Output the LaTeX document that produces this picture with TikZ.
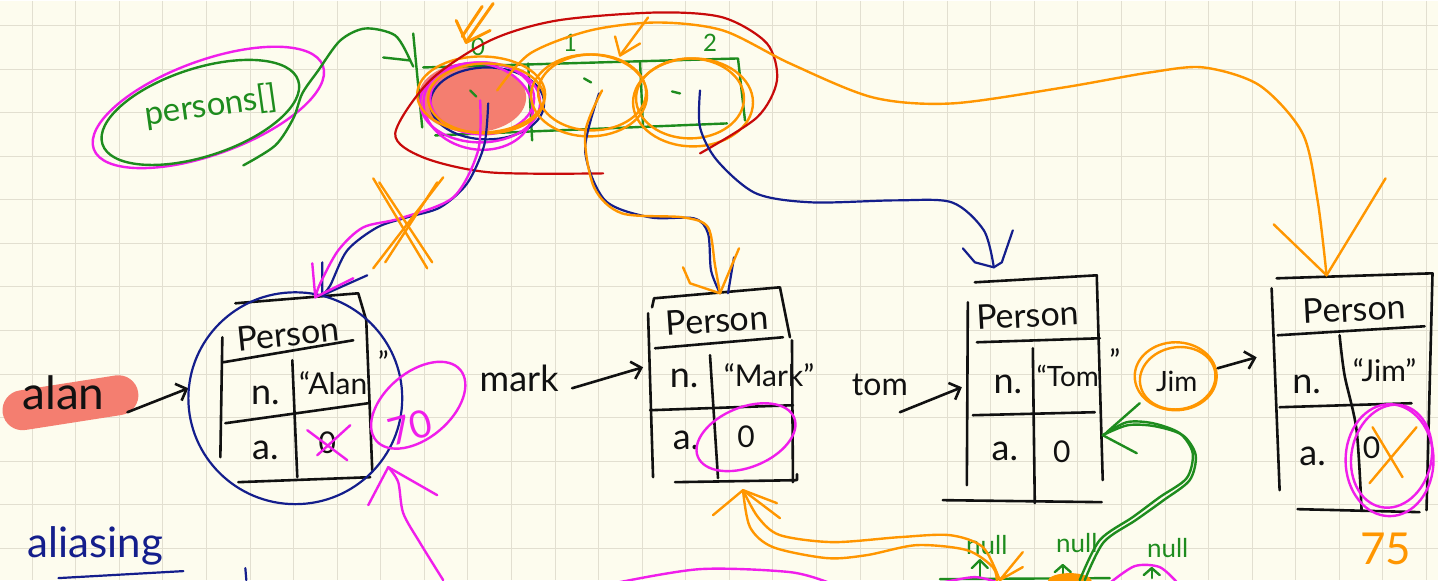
\documentclass[tikz,border=0pt]{standalone}
\usepackage{fontspec}
\setmainfont{Lato}
\usetikzlibrary{arrows.meta}
\definecolor{bg}{RGB}{253,252,238}
\definecolor{gridc}{RGB}{226,223,208}
\definecolor{ink}{RGB}{17,17,17}
\definecolor{navy}{RGB}{20,30,140}
\definecolor{mag}{RGB}{240,30,235}
\definecolor{orng}{RGB}{255,150,0}
\definecolor{grn}{RGB}{30,140,30}
\definecolor{redd}{RGB}{200,10,10}
\definecolor{salmon}{RGB}{244,126,112}
\tikzset{barb/.tip={Straight Barb[length=9pt,width=18pt]}}
\begin{document}
\begin{tikzpicture}[x=1pt,y=-1pt,
  pen/.style={line cap=round,line join=round},
  blk/.style={pen,draw=ink,line width=2.6pt},
  nv/.style={pen,draw=navy,line width=2.2pt},
  mg/.style={pen,draw=mag,line width=2.4pt},
  og/.style={pen,draw=orng,line width=2.4pt},
  gn/.style={pen,draw=grn,line width=2.4pt},
  rd/.style={pen,draw=redd,line width=2.2pt},
  hw/.style={inner sep=0pt,text=ink},
  fs/.style={font=\fontsize{#1}{#1}\selectfont}]
% background and grid
\fill[bg] (0,0) rectangle (1438,580);
\foreach \i in {0,...,32} \draw[gridc,line width=1pt] ({31.7+43.6*\i},0) -- ({31.7+43.6*\i},580);
\foreach \j in {0,...,12} \draw[gridc,line width=1pt] (0,{25+43.6*\j}) -- (1438,{25+43.6*\j});
\useasboundingbox (0,0) rectangle (1438,580);

% ---------- highlights ----------
\draw[salmon,line width=40pt,line cap=round] (22,410) -- (118,395);
\fill[salmon] (472,97) ellipse [x radius=54, y radius=35];

% ---------- persons label ----------
\draw[mg,rotate around={20:(208,107)}] (208,107) ellipse [x radius=122, y radius=47];
\draw[gn,rotate around={18:(200,112)}] (200,112) ellipse [x radius=103, y radius=44];
\node[hw,text=grn,fs=33,rotate=8] (persons) at (211,106) {persons[]};
\coordinate (persA) at (243,165);
\coordinate (arrL) at (410,60);
\draw[gn] plot[smooth] coordinates {(persA) (275,145) (293,118) (302,93) (318,70) (340,40) (365,28) (395,35) (arrL)};
\draw[gn] (383,57) -- (arrL) -- (413,66);

% ---------- array ----------
\draw[gn] (413,33) -- (422,127);
\draw[gn] (423,67) -- (738,58) -- (745,120);
\draw[gn] (435,135) -- (727,123);
\draw[gn] (528,63) -- (532,140);
\draw[gn] (640,62) -- (643,127);
\node[hw,text=grn,fs=24] (i0) at (478,46) {0};
\node[hw,text=grn,fs=24] (i1) at (570,42) {1};
\node[hw,text=grn,fs=24] (i2) at (710,42) {2};
\draw[gn] (470,90) -- (476,96);
\draw[gn] (584,78) -- (591,82);
\draw[gn] (672,91) -- (680,93);

\draw[nv] (487,103) ellipse [x radius=57, y radius=36];
\draw[mg] (480,102) ellipse [x radius=60, y radius=40];
\draw[mg,rotate around={-10:(478,106)}] (478,106) ellipse [x radius=55, y radius=43];
\draw[mg] (482,98) ellipse [x radius=52, y radius=36];

\draw[og] (481,94) ellipse [x radius=64, y radius=38];
\draw[og] (486,98) ellipse [x radius=58, y radius=35];
\draw[og] (589,95) ellipse [x radius=58, y radius=41];
\draw[og] (592,92) ellipse [x radius=54, y radius=38];
\draw[og] (693,102) ellipse [x radius=60, y radius=44];
\draw[og] (690,98) ellipse [x radius=54, y radius=40];

\draw[rd] plot[smooth] coordinates {(700,153) (757,117) (777,80) (767,43) (723,17) (657,12) (557,20) (490,40) (430,80) (395,133) (423,157) (490,172) (603,173)};

% orange arrows at top
\draw[og,line width=3pt] (493,3) -- (467,40);
\draw[og,line width=3pt] (482,6) -- (462,36);
\draw[og,line width=3pt] (456,20) -- (466,42) -- (490,30);
\draw[og] (648,17) -- (620,55);
\draw[og] (615,36) -- (620,55) -- (640,43);

% ---------- Person boxes ----------
% Alan
\draw[blk] (235,303) -- (358,293) -- (366,320) -- (372,470);
\draw[blk] (222,337) -- (220,457);
\draw[blk] (223,362) -- (353,340);
\draw[blk] (292,360) -- (297,477);
\draw[blk] (225,423) -- (368,403);
\draw[blk] (238,482) -- (370,477);
\node[hw,fs=34,rotate=6] (alanT) at (288,334) {Person};
\node[hw,fs=36] (alanN) at (265,395) {n.};
\node[hw,fs=30] (alanV) at (333,383) {“Alan};
\node[hw,fs=30] (alanQ) at (383,362) {”};
\node[hw,fs=36] (alanA) at (265,450) {a.};
\node[hw,fs=30] (alanZ) at (327,443) {0};
\draw[mg] (307,430) -- (347,460);
\draw[mg] (350,425) -- (317,455);
% Mark
\draw[blk] (652,307) -- (654,298) -- (780,287) -- (790,337);
\draw[blk] (792,340) -- (793,482);
\draw[blk] (648,313) -- (653,477);
\draw[blk] (655,348) -- (783,337);
\draw[blk] (710,355) -- (718,478);
\draw[blk] (650,410) -- (793,405);
\draw[blk] (675,482) -- (797,480) -- (797,474);
\node[hw,fs=34,rotate=4] (markT) at (717,320) {Person};
\node[hw,fs=36] (markN) at (684,378) {n.};
\node[hw,fs=30] (markV) at (769,375) {“Mark”};
\node[hw,fs=36] (markA) at (686,440) {a.};
\node[hw,fs=30] (markZ) at (746,437) {0};
% Tom
\draw[blk] (975,282) -- (1097,275) -- (1103,480);
\draw[blk] (968,302) -- (967,485);
\draw[blk] (977,342) -- (1100,338);
\draw[blk] (1033,348) -- (1035,503);
\draw[blk] (973,415) -- (1095,412);
\draw[blk] (943,500) -- (1102,502);
\node[hw,fs=34,rotate=3] (tomT) at (1028,315) {Person};
\node[hw,fs=36] (tomN) at (1008,384) {n.};
\node[hw,fs=28] (tomV) at (1068,376) {“Tom};
\node[hw,fs=30] (tomQ) at (1115,360) {”};
\node[hw,fs=36] (tomA) at (1005,451) {a.};
\node[hw,fs=30] (tomZ) at (1062,452) {0};
% Jim
\draw[blk] (1277,278) -- (1433,273) -- (1427,510);
\draw[blk] (1272,288) -- (1280,490);
\draw[blk] (1278,335) -- (1425,326);
\draw[blk] plot[smooth] coordinates {(1340,335) (1345,375) (1357,430) (1362,510)};
\draw[blk] (1280,407) -- (1412,403);
\draw[blk] (1298,509) -- (1420,512);
\node[hw,fs=34,rotate=3] (jimT) at (1355,309) {Person};
\node[hw,fs=36] (jimN) at (1307,384) {n.};
\node[hw,fs=30] (jimV) at (1385,370) {“Jim”};
\node[hw,fs=36] (jimA) at (1313,456) {a.};
\node[hw,fs=30] (jimZ) at (1372,448) {0};
\draw[og] (1373,427) -- (1403,477);
\draw[og] (1417,427) -- (1370,483);
\draw[mg] (1390,460) ellipse [x radius=44, y radius=56];
\draw[mg,rotate around={-12:(1392,456)}] (1392,456) ellipse [x radius=40, y radius=52];
\node[hw,text=orng,fs=44] (n75) at (1386,549) {75};

% ---------- variables ----------
\node[hw,fs=46] (alan) at (63,393) {alan};
\coordinate (alanS) at (127,412);
\coordinate (alanW) at (188,388);
\draw[blk,-barb] (alanS) -- (alanW);
\draw[nv] (295,398) ellipse [x radius=107, y radius=106];

\node[hw,fs=36] (mark) at (519,378) {mark};
\coordinate (markS) at (572,388);
\coordinate (markW) at (643,367);
\draw[blk,-barb] (markS) -- (markW);

\node[hw,fs=32] (tom) at (880,385) {tom};
\coordinate (tomS) at (900,412);
\coordinate (tomW) at (962,387);
\draw[blk,-barb] (tomS) -- (tomW);

\node[hw,fs=28] (jim) at (1177,381) {Jim};
\draw[og] (1176,376) ellipse [x radius=41, y radius=34];
\draw[og,rotate around={10:(1178,378)}] (1178,378) ellipse [x radius=38, y radius=31];
\coordinate (jimS) at (1218,368);
\coordinate (jimW) at (1257,357);
\draw[blk,-barb] (jimS) -- (jimW);

% ---------- magenta 70 ----------
\draw[mg,rotate around={40:(418,405)}] (418,405) ellipse [x radius=55, y radius=33];
\node[hw,text=mag,fs=38,rotate=15] (n70) at (410,427) {70};
\coordinate (pinkS) at (443,580);
\coordinate (pinkT) at (388,467);
\draw[mg] plot[smooth] coordinates {(pinkS) (420,543) (403,513) (398,482) (pinkT)};
\draw[mg] (368,505) -- (pinkT) -- (437,495);
\draw[mg,rotate around={22:(746,437)}] (746,437) ellipse [x radius=52, y radius=30];

% ---------- connectors from array ----------
\coordinate (c0) at (488,103);
\coordinate (alanTop) at (322,295);
\draw[nv] plot[smooth] coordinates {(c0) (484,145) (467,183) (440,207) (407,217) (377,227) (347,250) (330,285) (alanTop)};
\draw[nv] (322,262) -- (alanTop) -- (367,275);
\coordinate (c0m) at (480,100);
\coordinate (alanTopM) at (315,297);
\draw[mg] plot[smooth] coordinates {(c0m) (478,150) (453,197) (400,218) (363,227) (338,250) (320,283) (alanTopM)};
\draw[mg] (312,263) -- (alanTopM) -- (353,278);
\draw[og] (373,178) -- (427,268);
\draw[og] (379,182) -- (432,262);
\draw[og] (443,177) -- (373,268);
\draw[og] (437,182) -- (385,262);

\coordinate (c1) at (599,93);
\coordinate (markTop) at (720,293);
\draw[nv] plot[smooth] coordinates {(c1) (585,150) (605,200) (650,217) (694,218) (708,233) (711,270) (markTop)};
\draw[nv] (734,257) -- (728,293);
\coordinate (c1o) at (602,90);
\draw[og] plot[smooth] coordinates {(c1o) (585,133) (594,187) (622,213) (683,217) (708,227) (715,265) (markTop)};
\draw[og] (683,267) -- (690,283) -- (markTop) -- (739,248);

\coordinate (c2) at (700,90);
\coordinate (tomTop) at (994,267);
\draw[nv] plot[smooth] coordinates {(c2) (700,127) (717,160) (756,193) (812,202) (896,200) (952,202) (984,230) (tomTop)};
\draw[nv] (963,248) -- (975,262) -- (tomTop) -- (1002,262) -- (1013,230);

\coordinate (c0o) at (497,90);
\coordinate (jimTop) at (1327,275);
\draw[og] plot[smooth] coordinates {(c0o) (530,53) (590,30) (657,22) (723,30) (790,63) (873,97) (952,103) (1064,87) (1150,72) (1204,67) (1260,85) (1303,133) (1318,200) (jimTop)};
\draw[og] (1274,224) -- (jimTop) -- (1386,178);

% ---------- bottom ----------
\node[hw,text=navy,fs=42] (alias) at (95,546) {aliasing};
\draw[nv] (58,578) -- (183,571);
\draw[nv] (245,568) -- (246,580);

\node[hw,text=grn,fs=26] (null1) at (987,545) {null};
\node[hw,text=grn,fs=26] (null2) at (1077,543) {null};
\node[hw,text=grn,fs=26] (null3) at (1168,548) {null};
\draw[gn] (980,578) -- (980,560);
\draw[gn] (972,568) -- (980,560) -- (988,568);
\draw[gn] (1063,578) -- (1063,566);
\draw[gn] (1055,572) -- (1063,565) -- (1071,572);
\draw[gn] (1152,578) -- (1152,570);
\draw[gn] (1144,575) -- (1152,568) -- (1160,575);
\draw[gn] (940,579) -- (1110,578);

\draw[mg] plot[smooth] coordinates {(615,583) (700,569) (790,572) (830,583)};
\draw[mg] plot[smooth] coordinates {(940,583) (975,577) (1000,583)};
\draw[mg] plot[smooth] coordinates {(1110,583) (1135,566) (1160,567) (1178,583)};
\fill[orng] (1070,581) ellipse [x radius=22, y radius=8];

\coordinate (markBot) at (743,490);
\coordinate (nullA) at (1000,580);
\draw[og] plot[smooth] coordinates {(markBot) (758,517) (780,535) (833,542) (900,537) (950,535) (983,547) (nullA)};
\draw[og] plot[smooth] coordinates {(markBot) (750,527) (773,547) (827,558) (867,555) (917,545) (967,550) (993,567) (997,581)};
\draw[og] (713,515) -- (markBot) -- (777,503);
\draw[og] (markBot) -- (780,518);
\draw[og] (1023,552) -- (nullA) -- (1023,567);

\coordinate (gB) at (1080,580);
\coordinate (tomCell) at (1103,435);
\draw[gn] plot[smooth] coordinates {(gB) (1100,540) (1133,517) (1160,497) (1187,478) (1193,453) (1180,433) (1153,423) (1127,422) (tomCell)};
\draw[gn] plot[smooth] coordinates {(1085,580) (1104,542) (1136,520) (1164,500) (1190,480) (1196,455) (1183,435) (1155,426) (1128,425) (tomCell)};
\draw[gn] (1137,453) -- (tomCell);
\draw[gn] (1140,403) -- (1107,432);
\end{tikzpicture}
\end{document}
